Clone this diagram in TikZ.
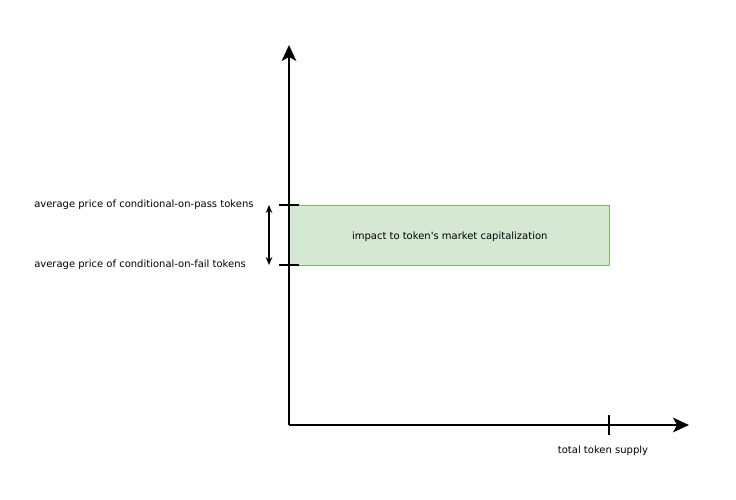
\documentclass[tikz,border=0pt]{standalone}
\usepackage{fontspec}
\setmainfont{DejaVu Sans}
\usetikzlibrary{positioning,arrows.meta,calc}
\definecolor{capfill}{HTML}{D5E8D4}
\definecolor{capline}{HTML}{82B366}
\tikzset{>={Stealth[length=6pt,width=5pt]}}
\tikzset{
  axis/.style={line width=1.1pt, -{Stealth[length=12pt,width=11pt,inset=3pt]}},
  tick/.style={line width=1.1pt},
  lbl/.style={font=\fontsize{7.5}{8}\selectfont, inner sep=0pt},
  capbox/.style={draw=capline, fill=capfill, line width=1.1pt, minimum width=240pt, minimum height=45pt, inner sep=0pt}
}

\begin{document}
\begin{tikzpicture}[x=0.75pt, y=-0.75pt]
        \useasboundingbox (0,0) rectangle (736,500);
        \coordinate (o) at (289,425); %origin
        \coordinate (ytop) at (289,45);
        \coordinate (xend) at (689,425);
        \node[capbox, anchor=north west] (cap) at (289,205) {};
        \node[lbl] at ($(cap.center)+(0,1)$) {impact to token\textquotesingle s market capitalization};
        \draw[axis] (o) -- (ytop);
        \draw[axis] (o) -- (xend);
        \coordinate (passl) at (279,205);
        \coordinate (passr) at (299,205);
        \coordinate (faill) at (279,265);
        \coordinate (failr) at (299,265);
        \coordinate (supt) at (609,415);
        \coordinate (supb) at (609,435);
        \draw[tick] (passl) -- (passr);
        \draw[tick] (faill) -- (failr);
        \draw[tick] (supt) -- (supb);
        \coordinate (gapt) at (269,205);
        \coordinate (gapb) at (269,265);
        \draw[<->, line width=1.1pt] (gapt) -- (gapb);
        \node[lbl, anchor=west] (pass) at (34,205) {average price of conditional-on-pass tokens};
        \node[lbl, anchor=west] (fail) at (34,265) {average price of conditional-on-fail tokens};
        \node[lbl] (supply) at (603,451) {total token supply};
      \end{tikzpicture}
\end{document}
